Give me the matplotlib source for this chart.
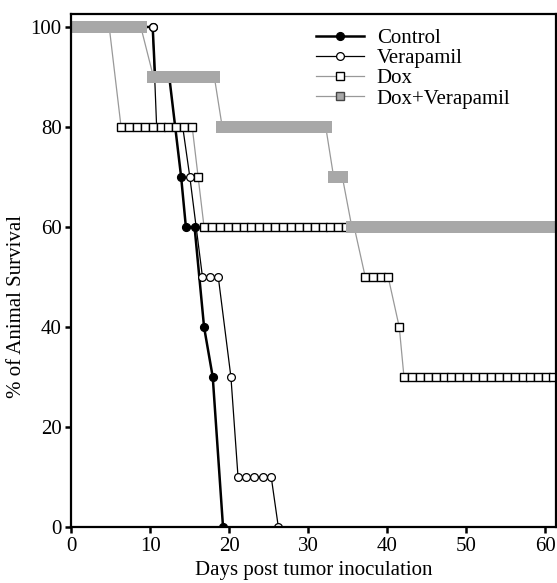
import matplotlib.pyplot as plt
from matplotlib.lines import Line2D

# survival data (day, % alive)
control_days = [0, 10.3, 10.6, 12.4, 13.9, 14.5, 15.6, 16.8, 17.9, 19.2]
control_surv = [100, 100, 90, 90, 70, 60, 60, 40, 30, 0]

vera_days = [0, 10.3, 10.8, 11.8, 12.8, 14.1, 15.0, 16.6, 17.5, 18.6, 20.2,
             21.1, 22.1, 23.1, 24.2, 25.3, 26.2]
vera_surv = [100, 100, 80, 80, 80, 80, 70, 50, 50, 50, 30,
             10, 10, 10, 10, 10, 0]

dox_days = [0, 4.8,
            6.3, 7.3, 8.3, 9.3, 10.3, 11.3, 12.3, 13.3, 14.3, 15.3,
            16.05,
            16.8, 17.8, 18.8, 19.8, 20.8, 21.8, 22.8, 23.8, 24.8, 25.8,
            26.8, 27.8, 28.8, 29.8, 30.8, 31.8, 32.8, 33.8, 34.8, 35.8,
            37.2, 38.2, 39.2, 40.1,
            41.5,
            42.1, 43.1, 44.1, 45.1, 46.1, 47.1, 48.1, 49.1, 50.1, 51.1,
            52.1, 53.1, 54.1, 55.1, 56.1, 57.1, 58.1, 59.1, 60.1, 60.9]
dox_surv = [100, 100] + [80] * 10 + [70] + [60] * 20 + [50] * 4 + [40] + [30] * 20

doxv_days = [0.4, 1.4, 2.4, 3.4, 4.4, 5.4, 6.4, 7.4, 8.4, 8.8,
             10.4, 11.4, 12.4, 13.4, 14.4, 15.4, 16.4, 17.4, 18.1,
             19.1, 20.1, 21.1, 22.1, 23.1, 24.1, 25.1, 26.1, 27.1, 28.1,
             29.1, 30.1, 31.1, 32.2,
             33.2, 34.3,
             35.5, 36.5, 37.5, 38.5, 39.5, 40.5, 41.5, 42.5, 43.5, 44.5,
             45.5, 46.5, 47.5, 48.5, 49.5, 50.5, 51.5, 52.5, 53.5, 54.5,
             55.5, 56.5, 57.5, 58.5, 59.5, 60.5, 61.0]
doxv_surv = [100] * 10 + [90] * 9 + [80] * 14 + [70] * 2 + [60] * 27

GRAY = '#a8a8a8'

plt.rcParams["font.family"] = "Liberation Serif"
plt.rcParams.update({"font.size": 15})

fig = plt.figure(figsize=(5.57, 5.83), dpi=100)
ax = fig.add_axes([0.128, 0.096, 0.8697, 0.88])

ax.plot(control_days, control_surv, color='black', lw=1.8, marker='o',
        ms=5.6, mfc='black', mec='black')
ax.plot(vera_days, vera_surv, color='black', lw=0.9, marker='o',
        ms=5.6, mfc='white', mec='black', mew=0.9)
ax.plot(dox_days, dox_surv, color='#999999', lw=0.9, marker='s',
        ms=5.2, mfc='white', mec='black', mew=1.0)
ax.plot(doxv_days, doxv_surv, color='#999999', lw=0.9, marker='s',
        ms=8, mfc=GRAY, mec='none', mew=0)

ax.set_xlim(0, 61.3)
ax.set_ylim(0, 102.6)
ax.set_xticks([0, 10, 20, 30, 40, 50, 60])
ax.set_yticks([0, 20, 40, 60, 80, 100])
ax.tick_params(direction='out', length=4, width=1.8, pad=3)
for s in ax.spines.values():
    s.set_linewidth(1.6)

ax.set_xlabel('Days post tumor inoculation', labelpad=4)
ax.set_ylabel('% of Animal Survival')
ax.yaxis.set_label_coords(-0.093, 0.43)

handles = [
    Line2D([], [], color='black', lw=1.8, marker='o', ms=5.6, mfc='black'),
    Line2D([], [], color='black', lw=0.9, marker='o', ms=5.6, mfc='white', mew=0.9),
    Line2D([], [], color='#999999', lw=0.9, marker='s', ms=5.2, mfc='white', mec='black', mew=1.0),
    Line2D([], [], color='#999999', lw=0.9, marker='s', ms=5.2, mfc=GRAY, mec='#444444', mew=1.0),
]
labels = ['Control', 'Verapamil', 'Dox', 'Dox+Verapamil']
ax.legend(handles, labels, loc='upper left', bbox_to_anchor=(0.506, 0.972),
          frameon=False, handlelength=2.3, handletextpad=0.6,
          labelspacing=0.03, borderpad=0, borderaxespad=0)

fig.savefig('out.png')
